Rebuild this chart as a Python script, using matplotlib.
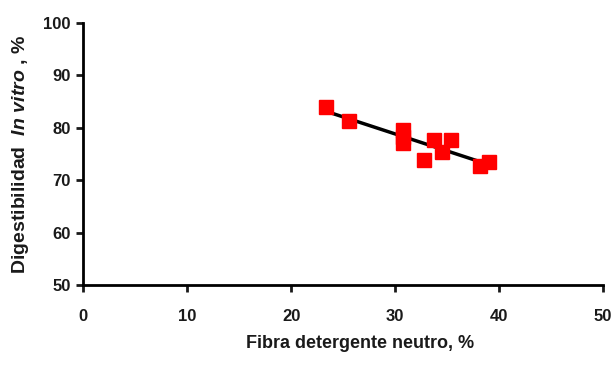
import numpy as np
import matplotlib.pyplot as plt

plt.rcParams['font.family'] = 'Liberation Sans'
plt.rcParams['font.weight'] = 'bold'
plt.rcParams['mathtext.fontset'] = 'custom'
plt.rcParams['mathtext.it'] = 'Liberation Sans:bold:italic'
plt.rcParams['mathtext.rm'] = 'Liberation Sans:bold'

# Fibra detergente neutro (%) vs digestibilidad in vitro (%)
fdn = [23.4, 25.6, 30.8, 30.8, 30.8, 32.8, 33.7, 34.5, 35.4, 38.2, 39.0]
div = [84.0, 81.3, 79.6, 78.3, 77.1, 73.9, 77.6, 75.4, 77.6, 72.8, 73.5]

x_ticks = [0, 10, 20, 30, 40, 50]
y_ticks = [50, 60, 70, 80, 90, 100]

txt = '#1a1a1a'

fig = plt.figure(figsize=(6.11, 3.66), dpi=100)
ax = fig.add_axes([0.136, 0.221, 0.851, 0.716])

# recta de regresion
m, b = np.polyfit(fdn, div, 1)
xl = np.array([min(fdn), max(fdn)])
ax.plot(xl, m * xl + b, color='black', lw=2.5, zorder=2)

ax.plot(fdn, div, 's', color='#ff0000', markersize=10, zorder=3)

ax.set_xlim(0, 50)
ax.set_ylim(50, 100)
ax.set_xticks(x_ticks)
ax.set_yticks(y_ticks)
ax.spines['top'].set_visible(False)
ax.spines['right'].set_visible(False)
ax.spines['left'].set_linewidth(2)
ax.spines['bottom'].set_linewidth(2)
ax.tick_params(width=2, length=5, labelsize=12, colors=txt)
ax.tick_params(axis='x', pad=12)
ax.tick_params(axis='y', pad=4)
for lab in ax.get_xticklabels() + ax.get_yticklabels():
    lab.set_fontweight('bold')
ax.set_xlabel('Fibra detergente neutro, %', fontsize=13, fontweight='bold',
              color=txt)
ax.xaxis.set_label_coords(0.533, -0.19)
ax.set_ylabel(r'Digestibilidad  $\mathit{In\ vitro}$ , %', fontsize=14,
              fontweight='bold', color=txt, labelpad=9)

fig.savefig('out.png', dpi=100)
